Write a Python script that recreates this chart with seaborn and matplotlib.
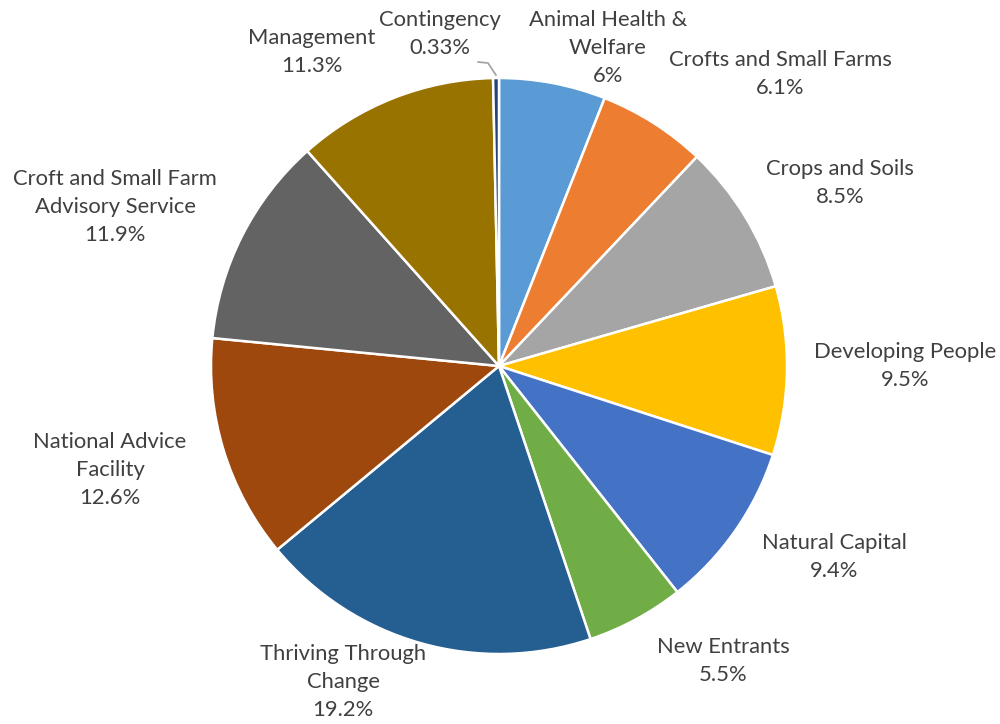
import matplotlib
matplotlib.use("Agg")
import matplotlib.pyplot as plt
import seaborn as sns
import numpy as np

# ---- data ----
categories = ["Animal Health &\nWelfare", "Crofts and Small Farms", "Crops and Soils",
              "Developing People", "Natural Capital", "New Entrants",
              "Thriving Through\nChange", "National Advice\nFacility",
              "Croft and Small Farm\nAdvisory Service", "Management", "Contingency"]
values = [6.0, 6.1, 8.5, 9.5, 9.4, 5.5, 19.2, 12.6, 11.9, 11.3, 0.33]
value_labels = ["6%", "6.1%", "8.5%", "9.5%", "9.4%", "5.5%", "19.2%", "12.6%",
                "11.9%", "11.3%", "0.33%"]

# ---- styles / layout ----
colors = ["#5B9BD5", "#ED7D31", "#A5A5A5", "#FFC000", "#4472C4", "#70AD47",
          "#255E91", "#9E480E", "#636363", "#997300", "#264478"]
# label centres in figure pixels (x, y from top)
label_px = [(608, 48), (780, 74), (840, 183), (905, 366), (834, 557), (723, 661),
            (343, 682), (110, 470), (115, 207), (312, 52), (440, 34)]

sns.set_theme(style="white")
plt.rcParams["font.family"] = ["Lato", "DejaVu Sans"]

W, H = 1000, 724
fig = plt.figure(figsize=(W / 100, H / 100), dpi=100)
cx, cy, R = 499, 366, 288
ax = fig.add_axes([(cx - R) / W, (H - cy - R) / H, 2 * R / W, 2 * R / H])
palette = sns.color_palette(colors)
wedges, _ = ax.pie(values, colors=palette, startangle=90, counterclock=False,
                   radius=1.0, wedgeprops=dict(edgecolor="white", linewidth=1.8))
ax.set_xlim(-1, 1)
ax.set_ylim(-1, 1)
ax.set_aspect("equal")
ax.axis("off")

def to_data(px, py):
    return (px - cx) / R, (cy - py) / R

for cat, vl, (px, py) in zip(categories, value_labels, label_px):
    x, y = to_data(px, py)
    ax.text(x, y, f"{cat}\n{vl}", ha="center", va="center", fontsize=15.8,
            color="#404040", linespacing=1.5, clip_on=False)

# leader line for Contingency
w = wedges[-1]
mid = np.deg2rad((w.theta1 + w.theta2) / 2)
sx, sy = np.cos(mid) * 1.01, np.sin(mid) * 1.01
ex1, ey1 = to_data(488, 63)
ex2, ey2 = to_data(478, 62)
ax.plot([sx, ex1, ex2], [sy, ey1, ey2], color="#A5A5A5", lw=1.3, clip_on=False)

fig.savefig("out.png", dpi=100)
